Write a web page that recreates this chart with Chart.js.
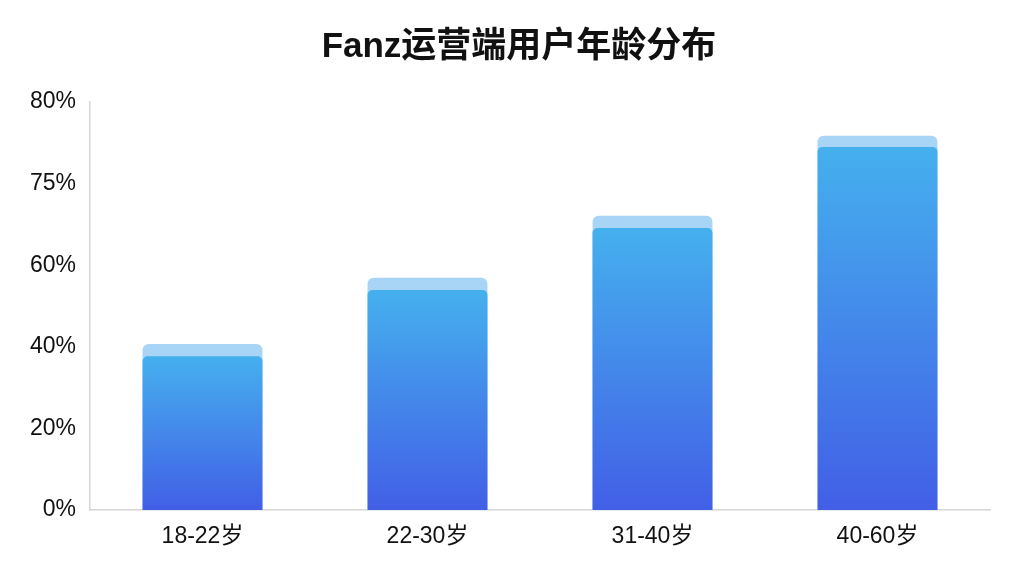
<!DOCTYPE html>
<html>
<head>
<meta charset="utf-8">
<script src="https://cdn.jsdelivr.net/npm/chart.js@4/dist/chart.umd.min.js"></script>
<style>
  html, body { margin: 0; padding: 0; background: #fff; }
  #wrap { width: 1024px; height: 576px; }
</style>
</head>
<body>
<div id="wrap"><canvas id="chart" width="1024" height="576"></canvas></div>
<script>
var chartTitle = "Fanz运营端用户年龄分布";
var ageGroups = ["18-22岁", "22-30岁", "31-40岁", "40-60岁"];
// hauteur du bar principal (dégradé) et du bandeau clair derrière
var mainValues = [37.7, 53.9, 69.1, 89.0];
var capValues = [40.7, 56.9, 72.1, 91.7];
// graduations affichées sur l'axe Y (telles que dans l'image)
var yTickLabels = ["0%", "20%", "40%", "60%", "75%", "80%"];

var labelFont = "'Liberation Sans', 'Noto Sans CJK SC', sans-serif";

// dégradé vertical propre à chaque barre
function barGradient(context) {
  var chart = context.chart;
  if (!chart.chartArea) return "#4a8ee9";
  var y = chart.scales.y;
  var top = y.getPixelForValue(context.raw);
  var bottom = y.getPixelForValue(0);
  var g = chart.ctx.createLinearGradient(0, top, 0, bottom);
  g.addColorStop(0, "#45b0ee");
  g.addColorStop(1, "#425fe6");
  return g;
}

// titre dessiné à la main, légèrement décalé à droite comme dans l'image
var titlePlugin = {
  id: "centerTitle",
  afterDraw: function(chart) {
    var c = chart.ctx;
    c.save();
    c.font = "bold 35px 'Liberation Sans', 'Noto Sans CJK SC', sans-serif";
    c.fillStyle = "#111";
    c.textAlign = "center";
    c.textBaseline = "middle";
    c.fillText(chartTitle, 519, 47);
    c.restore();
  }
};

var ctx = document.getElementById("chart").getContext("2d");

new Chart(ctx, {
  type: "bar",
  data: {
    labels: ageGroups,
    datasets: [
      {
        label: "main",
        data: mainValues,
        backgroundColor: barGradient,
        borderRadius: { topLeft: 5, topRight: 5 },
        borderSkipped: "start",
        categoryPercentage: 1,
        barPercentage: 0.533,
        order: 1
      },
      {
        label: "cap",
        data: capValues,
        backgroundColor: "#a8d4f6",
        borderRadius: { topLeft: 6, topRight: 6 },
        borderSkipped: "start",
        categoryPercentage: 1,
        barPercentage: 0.533,
        order: 2
      }
    ]
  },
  plugins: [titlePlugin],
  options: {
    responsive: false,
    animation: false,
    layout: {
      padding: { left: 0, right: 34, top: 102, bottom: 14 }
    },
    plugins: {
      legend: { display: false },
      tooltip: { enabled: false },
      title: { display: false }
    },
    scales: {
      x: {
        stacked: true,
        grid: { display: false },
        border: { display: true, color: "#d6d6d6", width: 1.5 },
        ticks: {
          color: "#111",
          font: { family: labelFont, size: 23 },
          padding: 5
        },
        afterFit: function(scale) { scale.height = 52; }
      },
      y: {
        min: 0,
        max: 100,
        grid: { display: false },
        border: { display: true, color: "#d6d6d6", width: 1.5 },
        ticks: {
          stepSize: 20,
          color: "#111",
          font: { family: labelFont, size: 23 },
          padding: 6,
          callback: function(value, index) {
            return yTickLabels[index];
          }
        },
        afterFit: function(scale) { scale.width = 90; }
      }
    }
  }
});
</script>
</body>
</html>
